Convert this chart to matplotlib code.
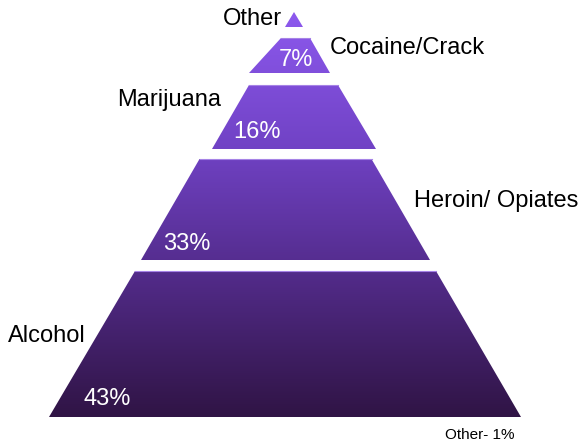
import numpy as np
import matplotlib.pyplot as plt
from matplotlib.colors import LinearSegmentedColormap
from matplotlib.patches import Polygon

# data, top of the pyramid first
drugs = ["Other", "Cocaine/Crack", "Marijuana", "Heroin/ Opiates", "Alcohol"]
shares = [1, 7, 16, 33, 43]

# layout of the drawn shapes (pixel units, y down)
tops = [12, 38, 85, 159, 271]
bottoms = [27, 73, 149, 260, 417]
top_half = [0, 14.5, 44.5, 86, 150.5]
bot_half = [9, 40.5, 82, 144.5, 236]
centers = [294, 295.5, 293.5, 285.5, 285.5]
bot_centers = [294, 289.5, 294, 285.5, 285]

plt.rcParams["font.family"] = ["Liberation Sans", "DejaVu Sans"]

fig = plt.figure(figsize=(5.85, 4.46), dpi=100)
ax = fig.add_axes([0, 0, 1, 1])
ax.set_xlim(0, 585)
ax.set_ylim(446, 0)
ax.axis("off")

cmap = LinearSegmentedColormap.from_list(
    "pyr", [(0, "#8d59ee"), (0.34, "#7042c4"), (0.62, "#552d8f"), (1, "#301445")])
grad = np.linspace(0, 1, 256).reshape(-1, 1)

for i in range(len(drugs)):
    pts = [(centers[i] - top_half[i], tops[i]), (centers[i] + top_half[i], tops[i]),
           (bot_centers[i] + bot_half[i], bottoms[i]), (bot_centers[i] - bot_half[i], bottoms[i])]
    poly = Polygon(pts, closed=True, facecolor="none", edgecolor="none")
    ax.add_patch(poly)
    im = ax.imshow(grad, cmap=cmap, aspect="auto", extent=(0, 585, 417, 12),
                   interpolation="bilinear", zorder=1)
    im.set_clip_path(poly)
    if top_half[i] > 0:
        ax.plot([pts[0][0], pts[1][0]], [tops[i], tops[i]], color="#a683e6", lw=0.8, zorder=2)

fs = 17
# category labels
ax.text(282, 19, drugs[0], ha="right", va="center", fontsize=fs)
ax.text(330, 48, drugs[1], ha="left", va="center", fontsize=fs)
ax.text(117, 100, drugs[2], ha="left", va="center", fontsize=fs)
ax.text(414, 201, drugs[3], ha="left", va="center", fontsize=fs)
ax.text(8, 336, drugs[4], ha="left", va="center", fontsize=fs)

# percentages
ax.text(296, 60, f"{shares[1]}%", ha="center", va="center", fontsize=fs, color="white")
ax.text(233, 132, f"{shares[2]}%", ha="left", va="center", fontsize=fs, color="white")
ax.text(163, 244, f"{shares[3]}%", ha="left", va="center", fontsize=fs, color="white")
ax.text(84, 399, f"{shares[4]}%", ha="left", va="center", fontsize=fs, color="white")
ax.text(445, 435, f"{drugs[0]}- {shares[0]}%", ha="left", va="center", fontsize=11)

fig.savefig("out.png", dpi=100)
